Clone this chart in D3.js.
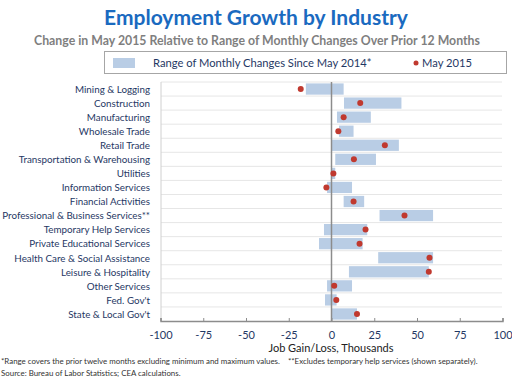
<!DOCTYPE html>
<html><head><meta charset="utf-8">
<script src="https://cdn.jsdelivr.net/npm/d3@7"></script>
<style>body{margin:0;background:#fff}svg{display:block}text{font-family:Lato,"Open Sans",sans-serif}</style>
</head><body><svg id="c" width="512" height="382"></svg>
<script>
const categories = ["Mining & Logging","Construction","Manufacturing","Wholesale Trade","Retail Trade","Transportation & Warehousing","Utilities","Information Services","Financial Activities","Professional & Business Services**","Temporary Help Services","Private Educational Services","Health Care & Social Assistance","Leisure & Hospitality","Other Services","Fed. Gov't","State & Local Gov't"];
const rangeMin = [-15,7.3,3.2,4.4,0,2.2,0.3,-2.6,7.1,28.1,-4.4,-7.3,27.3,10.2,-2.6,-3.8,0];
const rangeMax = [7.1,40.9,23,12.9,39.4,26,2.2,12,19.1,59.4,20.9,18.2,59.4,56.9,12,3,14.9];
const may2015 = [-18,16.8,7.1,4,31.2,13.1,1.1,-3,12.9,42.7,19.9,16.4,57.3,56.9,1.6,2.8,14.9];
const xTicks = [-100,-75,-50,-25,0,25,50,75,100];

const svg = d3.select("#c");
const navy = "#1f3864";
const x = d3.scaleLinear().domain([-100,100]).range([160.5,502.5]);
const y = d3.scaleBand().domain(categories).range([82,321]).paddingInner(0.2).paddingOuter(0.1);

// title
svg.append("text").attr("x",256).attr("y",25).attr("text-anchor","middle")
  .attr("font-size",21).attr("font-weight","bold").attr("fill","#1a6ac0").text("Employment Growth by Industry");
svg.append("text").attr("x",257).attr("y",45).attr("text-anchor","middle")
  .attr("font-size",12.3).attr("font-weight","bold").attr("fill","#7f7f7f").text("Change in May 2015 Relative to Range of Monthly Changes Over Prior 12 Months");

// legend
svg.append("rect").attr("x",104.5).attr("y",51.5).attr("width",402).attr("height",22).attr("fill","#fff").attr("stroke","#a6a6a6");
svg.append("rect").attr("x",113).attr("y",58).attr("width",22).attr("height",10).attr("fill","#b9cde5");
svg.append("text").attr("x",153).attr("y",67).attr("font-size",11.2).attr("fill",navy).text("Range of Monthly Changes Since May 2014*");
svg.append("circle").attr("cx",416).attr("cy",63).attr("r",2.5).attr("fill","#c0392f");
svg.append("text").attr("x",422).attr("y",67).attr("font-size",11.2).attr("fill",navy).text("May 2015");

// gridlines at row boundaries
const g = svg.append("g");
categories.forEach((c,i)=>{
  const yy = 82 + i*(239/17);
  g.append("line").attr("x1",161).attr("x2",502).attr("y1",yy).attr("y2",yy).attr("stroke","#e6e6e6").attr("stroke-width",1);
});
g.append("line").attr("x1",161).attr("x2",161).attr("y1",82).attr("y2",321).attr("stroke","#d0d0d0");

// bars
svg.append("g").selectAll("rect").data(categories).join("rect")
  .attr("x",(d,i)=>x(rangeMin[i])).attr("width",(d,i)=>Math.max(1,x(rangeMax[i])-x(rangeMin[i])))
  .attr("y",d=>y(d)).attr("height",y.bandwidth()).attr("fill","#b9cde5");

// zero line
svg.append("line").attr("x1",x(0)).attr("x2",x(0)).attr("y1",82).attr("y2",321).attr("stroke","#8c8c8c").attr("stroke-width",1.5);

// dots
svg.append("g").selectAll("circle").data(categories).join("circle")
  .attr("cx",(d,i)=>x(may2015[i])).attr("cy",d=>y(d)+y.bandwidth()/2).attr("r",3).attr("fill","#c0392f");

// category labels
const labs = svg.append("g").selectAll("text").data(categories).join("text")
  .attr("x",150).attr("y",d=>y(d)+y.bandwidth()/2+3.8).attr("text-anchor","end")
  .attr("font-size",11).attr("fill",navy).text(d=>d);
let maxW = 0; labs.each(function(){ maxW = Math.max(maxW, this.getComputedTextLength()); });
const fs = Math.min(11, 11*148/maxW);
labs.attr("font-size", fs);

// x axis
const ax = svg.append("g").attr("transform","translate(0,321)")
  .call(d3.axisBottom(x).tickValues(xTicks).tickSize(-3).tickPadding(10).tickFormat(d=>String(d)));
ax.select(".domain").attr("stroke","#8c8c8c").attr("stroke-width",1.5);
ax.selectAll(".tick line").attr("stroke","#8c8c8c");
ax.selectAll(".tick text").attr("font-family","Lato,sans-serif").attr("font-size",11).attr("fill",navy);

svg.append("text").attr("x",331).attr("y",352).attr("text-anchor","middle").attr("font-size",11).attr("fill","#222").text("Job Gain/Loss, Thousands");

// footnotes
svg.append("text").attr("x",1).attr("y",364).attr("font-size",7.9).attr("fill","#333").attr("xml:space","preserve")
  .text("*Range covers the prior twelve months excluding minimum and maximum values.    **Excludes temporary help services (shown separately).");
svg.append("text").attr("x",1).attr("y",376).attr("font-size",7.9).attr("fill","#333").text("Source: Bureau of Labor Statistics; CEA calculations.");
</script></body></html>
